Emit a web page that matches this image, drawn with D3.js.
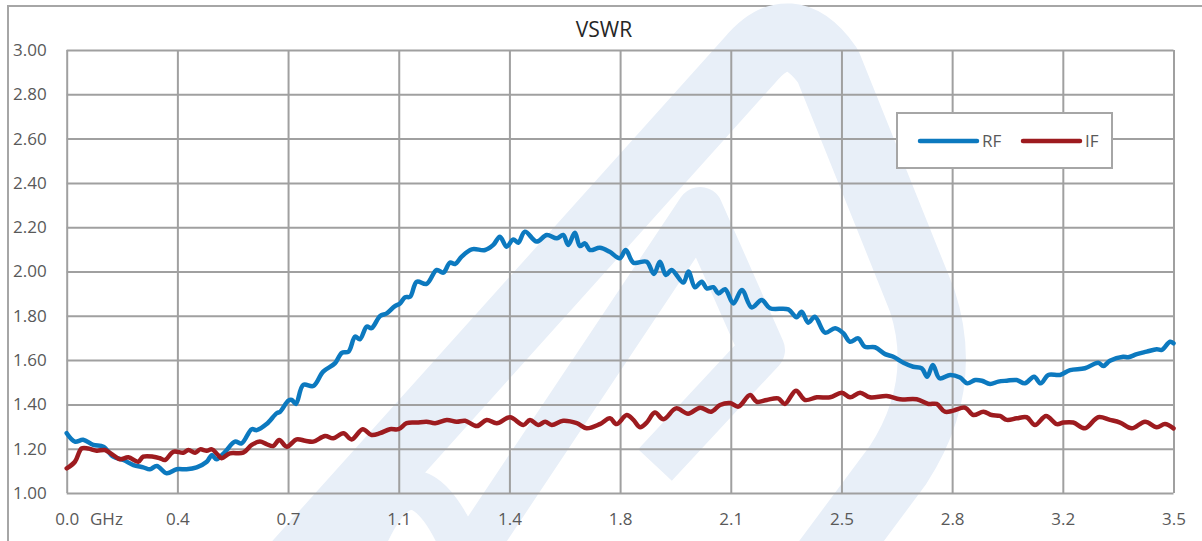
<!DOCTYPE html>
<html>
<head>
<meta charset="utf-8">
<script src="https://cdn.jsdelivr.net/npm/d3@7"></script>
<style>
  body { margin: 0; background: #fff; }
  svg { display: block; font-family: "Open Sans", sans-serif; }
</style>
</head>
<body>
<svg id="chart" width="1202" height="541"></svg>
<script>
// GHz / VSWR
const rfFreq = [0.00,0.026,0.052,0.084,0.116,0.147,0.179,0.211,0.242,0.263,0.285,0.316,0.348,0.379,0.411,0.443,0.459,0.474,0.501,0.532,0.553,0.585,0.601,0.632,0.664,0.675,0.701,0.712,0.725,0.748,0.780,0.811,0.848,0.870,0.891,0.912,0.927,0.949,0.964,0.991,1.012,1.038,1.054,1.070,1.086,1.107,1.138,1.170,1.191,1.212,1.228,1.249,1.281,1.323,1.349,1.370,1.391,1.412,1.428,1.449,1.486,1.518,1.550,1.570,1.586,1.607,1.623,1.639,1.655,1.686,1.717,1.749,1.768,1.792,1.834,1.857,1.876,1.895,1.913,1.950,1.966,1.987,2.008,2.024,2.045,2.061,2.082,2.108,2.135,2.166,2.198,2.224,2.282,2.308,2.324,2.345,2.366,2.398,2.430,2.456,2.477,2.503,2.524,2.556,2.588,2.614,2.646,2.677,2.704,2.721,2.739,2.760,2.794,2.825,2.848,2.873,2.894,2.920,2.946,2.973,3.004,3.030,3.059,3.080,3.104,3.141,3.173,3.220,3.262,3.278,3.299,3.341,3.357,3.384,3.415,3.447,3.463,3.489,3.500];
const rfVswr = [1.27,1.232,1.24,1.217,1.209,1.164,1.149,1.126,1.116,1.107,1.122,1.089,1.107,1.107,1.116,1.141,1.171,1.152,1.186,1.232,1.224,1.288,1.284,1.311,1.36,1.367,1.417,1.42,1.402,1.488,1.483,1.548,1.585,1.633,1.638,1.706,1.694,1.751,1.744,1.799,1.811,1.844,1.856,1.884,1.886,1.954,1.944,2.007,1.995,2.04,2.034,2.067,2.1,2.097,2.12,2.157,2.112,2.145,2.13,2.18,2.135,2.165,2.15,2.165,2.12,2.175,2.115,2.127,2.097,2.107,2.089,2.06,2.097,2.04,2.044,1.989,2.044,1.984,2.007,1.95,2.0,1.929,1.954,1.924,1.929,1.901,1.92,1.856,1.916,1.838,1.871,1.834,1.829,1.793,1.818,1.769,1.796,1.724,1.744,1.721,1.683,1.698,1.66,1.658,1.627,1.615,1.588,1.57,1.563,1.525,1.578,1.518,1.533,1.521,1.495,1.51,1.507,1.492,1.503,1.507,1.51,1.495,1.525,1.495,1.533,1.533,1.555,1.563,1.588,1.573,1.597,1.615,1.613,1.627,1.638,1.649,1.646,1.683,1.676];

const ifFreq = [0.00,0.026,0.047,0.068,0.095,0.121,0.147,0.169,0.195,0.226,0.242,0.274,0.295,0.311,0.337,0.369,0.385,0.406,0.422,0.443,0.459,0.479,0.490,0.516,0.558,0.585,0.611,0.632,0.653,0.672,0.696,0.727,0.754,0.780,0.817,0.843,0.875,0.901,0.936,0.964,0.991,1.022,1.049,1.075,1.107,1.138,1.165,1.202,1.233,1.260,1.297,1.328,1.360,1.402,1.444,1.465,1.491,1.513,1.534,1.570,1.613,1.644,1.686,1.718,1.739,1.771,1.792,1.813,1.834,1.860,1.887,1.927,1.965,2.003,2.038,2.066,2.098,2.124,2.161,2.182,2.214,2.250,2.271,2.306,2.335,2.372,2.414,2.451,2.477,2.509,2.540,2.593,2.635,2.688,2.725,2.751,2.777,2.804,2.841,2.867,2.899,2.925,2.951,2.973,3.004,3.036,3.062,3.097,3.131,3.152,3.183,3.220,3.262,3.299,3.331,3.368,3.410,3.447,3.473,3.500];
const ifVswr = [1.111,1.141,1.201,1.201,1.191,1.194,1.171,1.152,1.161,1.141,1.164,1.164,1.157,1.149,1.186,1.182,1.194,1.182,1.197,1.191,1.197,1.171,1.157,1.179,1.182,1.217,1.232,1.221,1.212,1.239,1.209,1.242,1.236,1.232,1.257,1.247,1.27,1.242,1.288,1.262,1.27,1.288,1.288,1.315,1.318,1.322,1.315,1.33,1.322,1.326,1.302,1.33,1.315,1.342,1.307,1.33,1.307,1.322,1.307,1.326,1.315,1.292,1.311,1.337,1.311,1.352,1.33,1.297,1.318,1.363,1.333,1.382,1.358,1.385,1.367,1.397,1.406,1.39,1.442,1.412,1.42,1.427,1.402,1.462,1.42,1.432,1.432,1.453,1.432,1.453,1.432,1.438,1.423,1.423,1.402,1.402,1.367,1.372,1.385,1.352,1.367,1.352,1.348,1.33,1.337,1.342,1.307,1.348,1.311,1.318,1.318,1.292,1.342,1.33,1.318,1.292,1.322,1.297,1.311,1.292];

const xTicks = [0, 0.35, 0.7, 1.05, 1.4, 1.75, 2.1, 2.45, 2.8, 3.15, 3.5];
const xTickLabels = ["0.0", "0.4", "0.7", "1.1", "1.4", "1.8", "2.1", "2.5", "2.8", "3.2", "3.5"];
const yTicks = [1.0, 1.2, 1.4, 1.6, 1.8, 2.0, 2.2, 2.4, 2.6, 2.8, 3.0];

const series = [
  { name: "RF", color: "#0c79bf", freq: rfFreq, vals: rfVswr },
  { name: "IF", color: "#9d1b1f", freq: ifFreq, vals: ifVswr }
];

const svg = d3.select("#chart");
const plotL = 66.7, plotR = 1173.5, plotT = 50, plotB = 493;

const x = d3.scaleLinear().domain([0, 3.5]).range([plotL, plotR]);
const y = d3.scaleLinear().domain([1, 3]).range([plotB, plotT]);

// chart area frame
svg.append("rect")
  .attr("x", 8).attr("y", 6)
  .attr("width", 1210).attr("height", 560)
  .attr("fill", "#fff")
  .attr("stroke", "#a6a6a6").attr("stroke-width", 2);

// faint logo watermark behind everything
const wm = svg.append("g")
  .attr("fill", "none")
  .attr("stroke", "#e8eff8")
  .attr("stroke-linejoin", "round");
wm.append("path")
  .attr("d", "M265,600 L750,60 Q790,12 828,66 L922,300 Q950,385 898,465 L820,570")
  .attr("stroke-width", 68);
wm.append("path")
  .attr("d", "M440,600 L700,210 L762,350 L655,465")
  .attr("stroke-width", 46);
wm.append("path")
  .attr("d", "M355,570 Q410,410 470,570")
  .attr("stroke-width", 40);

svg.append("text")
  .attr("x", 604).attr("y", 37)
  .attr("text-anchor", "middle")
  .attr("font-size", 21)
  .attr("fill", "#262626")
  .text("VSWR");

const yAxis = svg.append("g")
  .attr("transform", `translate(${plotL},0)`)
  .call(d3.axisLeft(y).tickValues(yTicks)
    .tickSize(-(plotR - plotL)).tickPadding(20)
    .tickFormat(d3.format(".2f")));

const xAxis = svg.append("g")
  .attr("transform", `translate(0,${plotB})`)
  .call(d3.axisBottom(x).tickValues(xTicks)
    .tickSize(-(plotB - plotT)).tickPadding(20)
    .tickFormat((d, i) => xTickLabels[i]));

[yAxis, xAxis].forEach(g => {
  g.select(".domain").remove();
  g.selectAll(".tick line").attr("stroke", "#a0a0a0").attr("stroke-width", 2);
  g.selectAll(".tick text")
    .attr("fill", "#595959")
    .attr("font-size", 17)
    .attr("font-family", "Open Sans, sans-serif");
});

svg.append("text")
  .attr("x", 90).attr("y", 525)
  .attr("font-size", 17)
  .attr("fill", "#595959")
  .text("GHz");

const line = d3.line()
  .x(d => x(d[0]))
  .y(d => y(d[1]))
  .curve(d3.curveCatmullRom.alpha(0.5));

svg.append("g")
  .selectAll("path")
  .data(series)
  .join("path")
  .attr("fill", "none")
  .attr("stroke", d => d.color)
  .attr("stroke-width", 4.5)
  .attr("stroke-linejoin", "round")
  .attr("stroke-linecap", "round")
  .attr("d", d => line(d.freq.map((f, i) => [f, d.vals[i]])));

// legend
const legend = svg.append("g");
legend.append("rect")
  .attr("x", 897).attr("y", 113)
  .attr("width", 215).attr("height", 55)
  .attr("fill", "#fff")
  .attr("stroke", "#a6a6a6").attr("stroke-width", 2);

const item = legend.selectAll("g")
  .data(series)
  .join("g")
  .attr("transform", (d, i) => `translate(${920 + i * 103},141)`);
item.append("line")
  .attr("x1", 0).attr("x2", 57)
  .attr("stroke", d => d.color)
  .attr("stroke-width", 4.5)
  .attr("stroke-linecap", "round");
item.append("text")
  .attr("x", 62).attr("y", 6)
  .attr("font-size", 17)
  .attr("fill", "#595959")
  .text(d => d.name);
</script>
</body>
</html>
